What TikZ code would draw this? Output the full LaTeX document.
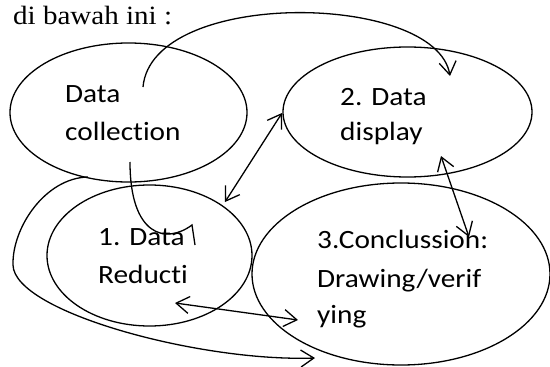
\documentclass[tikz,border=0pt]{standalone}
\usepackage{fontspec}
\setmainfont{Carlito}[FakeStretch=1.11, RawFeature={-liga;-clig;-dlig}]
\newfontfamily\serifhead{Liberation Serif}[FakeStretch=1.1]
\usetikzlibrary{shapes.geometric,arrows.meta}

\tikzset{
  bubble/.style={draw, ellipse, line width=1.3pt, inner sep=0pt},
  lbl/.style={anchor=base west, inner sep=0pt, font=\fontsize{26.4}{30}\selectfont},
  link/.style={line width=1.3pt},
  barb/.tip={Straight Barb[length=13pt,width=17pt]},
}

\begin{document}
\begin{tikzpicture}[x=1pt, y=-1pt]
\useasboundingbox (0,0) rectangle (550,367);

% heading line
\node[anchor=base west, inner sep=0pt, font=\serifhead\fontsize{26.4}{30}\selectfont] (head) at (13,24) {di bawah ini :};

% the four stages
\node[bubble, minimum width=237pt, minimum height=139pt] (coll) at (128.5,112.5) {};
\node[bubble, minimum width=249pt, minimum height=130pt] (disp) at (407.5,112) {};
\node[bubble, minimum width=205pt, minimum height=141pt] (red)  at (149.5,255.5) {};
\node[bubble, minimum width=298pt, minimum height=182pt] (concl) at (401,274) {};

% stage labels
\node[lbl] (collA) at (65,102) {Data};
\node[lbl] (collB) at (65,140) {collection};
\node[lbl] (dispA) at (340,105) {2. Data};
\node[lbl] (dispB) at (340,140) {display};
\node[lbl] (redA) at (98,245) {1. Data};
\node[lbl] (redB) at (98,283) {Reducti};
\node[lbl] (conA) at (317,248) {3.Conclussion:};
\node[lbl] (conB) at (317,287) {Drawing/verif};
\node[lbl] (conC) at (317,323) {ying};

% connector end points
\coordinate (c1s) at (143,87);
\coordinate (c1e) at (450,76);
\coordinate (c2a) at (225,202);
\coordinate (c2b) at (282,113);
\coordinate (c3a) at (441,156);
\coordinate (c3b) at (469,237);
\coordinate (c4s) at (130,162);
\coordinate (c4e) at (192,225);
\coordinate (c4b) at (195,245);
\coordinate (c5a) at (175,303);
\coordinate (c5b) at (298,320);
\coordinate (c6s) at (88,177);
\coordinate (c6m) at (13,265);
\coordinate (c6e) at (315,358);

% collection -> display (arc over the top)
\draw[link, -barb] (c1s) .. controls (152,-12) and (436,-8) .. (c1e);
% reduction <-> display
\draw[link, barb-barb] (c2a) -- (c2b);
% display <-> conclusion
\draw[link, barb-barb] (c3a) -- (c3b);
% collection -> reduction (hooked line)
\draw[link] (c4s) .. controls (130,235) and (165,245) .. (c4e) -- (c4b);
% reduction <-> conclusion
\draw[link, barb-barb] (c5a) -- (c5b);
% long loop from collection round to conclusion
\draw[link, -barb] (c6s) .. controls (45,178) and (12,228) .. (c6m)
  .. controls (14,312) and (200,362) .. (c6e);
\end{tikzpicture}
\end{document}
